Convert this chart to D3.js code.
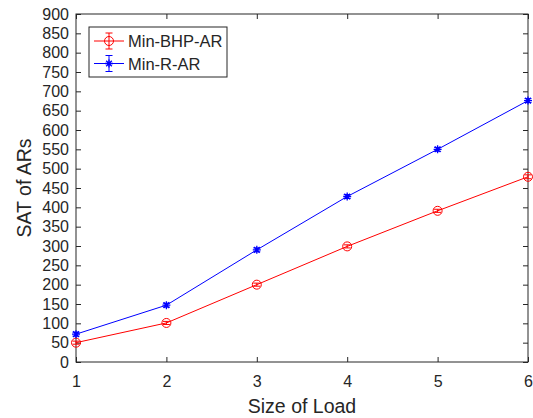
<!DOCTYPE html>
<html>
<head>
<meta charset="utf-8">
<script src="https://cdn.jsdelivr.net/npm/d3@7"></script>
<style>
  html, body { margin: 0; padding: 0; background: #fff; }
  svg { display: block; }
  text { font-family: "Liberation Sans", Arial, Helvetica, sans-serif; fill: #262626; }
</style>
</head>
<body>
<svg id="chart" width="533" height="418"></svg>
<script>
// Load sizes on the x axis
const loadSizes = [1, 2, 3, 4, 5, 6];
// SAT of ARs per strategy
const minBhpAr = [50, 101, 200, 299, 391, 479];
const minRAr   = [72, 147, 290, 428, 550, 676];
// Half-width of the error bars
const minBhpErr = [4, 4, 4, 4, 4, 5];
const minRErr   = [5, 5, 5, 5, 5, 5];
const yTicks = d3.range(0, 901, 50);
const seriesNames = ["Min-BHP-AR", "Min-R-AR"];

const svg = d3.select("#chart");
const plotLeft = 76, plotRight = 528, plotTop = 14, plotBottom = 362;

const x = d3.scaleLinear().domain([1, 6]).range([plotLeft, plotRight]);
const y = d3.scaleLinear().domain([0, 900]).range([plotBottom, plotTop]);

const axisColor = "#262626";
const tickLen = 5;
const fontStack = "Liberation Sans, Arial, sans-serif";

// Plot box
svg.append("rect")
  .attr("x", plotLeft).attr("y", plotTop)
  .attr("width", plotRight - plotLeft).attr("height", plotBottom - plotTop)
  .attr("fill", "none").attr("stroke", axisColor).attr("stroke-width", 1);

// Left axis with inward ticks
const yAxis = svg.append("g").attr("transform", `translate(${plotLeft},0)`)
  .call(d3.axisLeft(y).tickValues(yTicks).tickSize(-tickLen).tickPadding(7));
yAxis.select(".domain").remove();
yAxis.selectAll("line").attr("stroke", axisColor);
yAxis.selectAll("text").attr("font-size", 16).attr("fill", axisColor)
  .attr("font-family", fontStack);

// Right mirrored ticks
const yAxisR = svg.append("g").attr("transform", `translate(${plotRight},0)`)
  .call(d3.axisRight(y).tickValues(yTicks).tickSize(-tickLen).tickFormat(""));
yAxisR.select(".domain").remove();
yAxisR.selectAll("line").attr("stroke", axisColor);

// Bottom axis
const xAxis = svg.append("g").attr("transform", `translate(0,${plotBottom})`)
  .call(d3.axisBottom(x).tickValues(loadSizes).tickSize(-tickLen).tickPadding(14).tickFormat(d3.format("d")));
xAxis.select(".domain").remove();
xAxis.selectAll("line").attr("stroke", axisColor);
xAxis.selectAll("text").attr("font-size", 16).attr("fill", axisColor)
  .attr("font-family", fontStack);

// Top mirrored ticks
const xAxisT = svg.append("g").attr("transform", `translate(0,${plotTop})`)
  .call(d3.axisTop(x).tickValues(loadSizes).tickSize(-tickLen).tickFormat(""));
xAxisT.select(".domain").remove();
xAxisT.selectAll("line").attr("stroke", axisColor);

// Axis titles
svg.append("text")
  .attr("x", (plotLeft + plotRight) / 2).attr("y", 413)
  .attr("text-anchor", "middle").attr("font-size", 19.5)
  .text("Size of Load");
svg.append("text")
  .attr("transform", `translate(31,${(plotTop + plotBottom) / 2}) rotate(-90)`)
  .attr("text-anchor", "middle").attr("font-size", 19.5)
  .text("SAT of ARs");

const line = d3.line().x((d) => x(d[0])).y((d) => y(d[1]));

function drawMarker(g, cx, cy, color, marker) {
  if (marker === "circle") {
    g.append("circle").attr("cx", cx).attr("cy", cy).attr("r", 4.5)
      .attr("fill", "none").attr("stroke", color).attr("stroke-width", 1);
  } else {
    const r = 4;
    const d = r * Math.SQRT1_2;
    g.append("path")
      .attr("d", `M${cx - r},${cy}H${cx + r}M${cx},${cy - r}V${cy + r}M${cx - d},${cy - d}L${cx + d},${cy + d}M${cx - d},${cy + d}L${cx + d},${cy - d}`)
      .attr("stroke", color).attr("stroke-width", 1.3).attr("fill", "none");
  }
}

function drawSeries(values, errs, color, marker) {
  const pts = loadSizes.map((s, i) => [s, values[i], errs[i]]);
  const g = svg.append("g");
  g.append("path").datum(pts)
    .attr("d", line).attr("fill", "none")
    .attr("stroke", color).attr("stroke-width", 1);
  // error bars with caps
  pts.forEach((p) => {
    const cx = x(p[0]);
    const y0 = y(p[1] - p[2]), y1 = y(p[1] + p[2]);
    const cap = 3.5;
    g.append("path")
      .attr("d", `M${cx},${y0}V${y1}M${cx - cap},${y0}H${cx + cap}M${cx - cap},${y1}H${cx + cap}`)
      .attr("stroke", color).attr("stroke-width", 1).attr("fill", "none");
    drawMarker(g, cx, y(p[1]), color, marker);
  });
}

drawSeries(minBhpAr, minBhpErr, "#ff0000", "circle");
drawSeries(minRAr, minRErr, "#0000ff", "star");

// Legend
const legend = svg.append("g");
legend.append("rect")
  .attr("x", 89).attr("y", 27).attr("width", 138).attr("height", 50)
  .attr("fill", "#fff").attr("stroke", axisColor).attr("stroke-width", 1);
const legendItems = [
  { name: seriesNames[0], color: "#ff0000", marker: "circle", cy: 41 },
  { name: seriesNames[1], color: "#0000ff", marker: "star", cy: 63.5 }
];
legendItems.forEach((it) => {
  const mx = 109;
  legend.append("path")
    .attr("d", `M94,${it.cy}H124M${mx},${it.cy - 8}V${it.cy + 8}M${mx - 3.5},${it.cy - 8}H${mx + 3.5}M${mx - 3.5},${it.cy + 8}H${mx + 3.5}`)
    .attr("stroke", it.color).attr("stroke-width", 1).attr("fill", "none");
  drawMarker(legend, mx, it.cy, it.color, it.marker);
  legend.append("text")
    .attr("x", 128).attr("y", it.cy + 6)
    .attr("font-size", 16.5).attr("fill", "#000")
    .text(it.name);
});
</script>
</body>
</html>
